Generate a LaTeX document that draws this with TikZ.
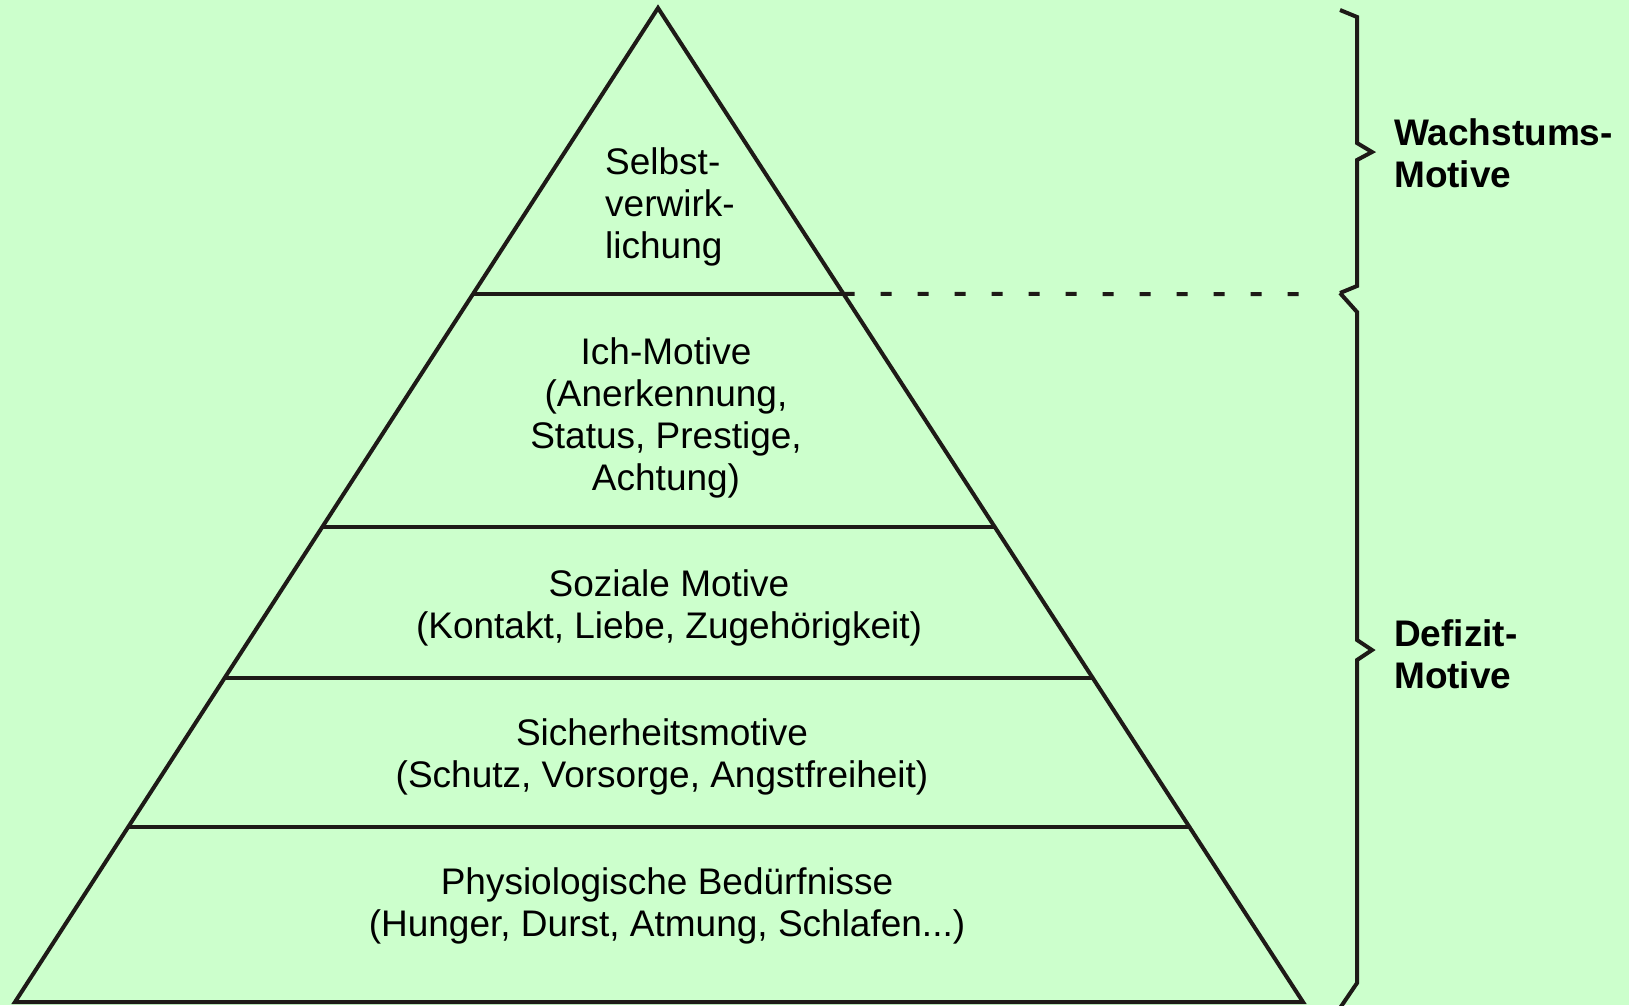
\documentclass[tikz,border=0pt]{standalone}
\usepackage{fontspec}
\setmainfont{Liberation Sans}
\usepackage{xcolor}
\usetikzlibrary{calc}
\definecolor{bggreen}{HTML}{CCFFCC}
\definecolor{inkline}{HTML}{1E1A17}
\tikzset{
  layer/.style={line width=4pt,inkline},
  layertext/.style={align=center,inner sep=0pt,font=\fontsize{37}{42}\selectfont},
  grouptext/.style={align=left,anchor=west,inner sep=0pt,font=\fontsize{37}{42}\selectfont\bfseries}
}
\begin{document}
\begin{tikzpicture}[x=1pt,y=-1pt]
  \fill[bggreen] (0,0) rectangle (1629,1005);
  \useasboundingbox (0,0) rectangle (1629,1005);
  \coordinate (apex) at (658,8);
  \coordinate (bl) at (15,1002);
  \coordinate (br) at (1303,1002);
  % pyramid outline
  \draw[layer,line join=miter] (bl) -- (apex) -- (br) -- cycle;
  % layer boundaries
  \foreach \t/\n in {0.2877/a,0.5221/b,0.6740/c,0.8239/d} {
    \draw[layer] ($(apex)!\t!(bl)$) coordinate (l\n) -- ($(apex)!\t!(br)$) coordinate (r\n);
  }
  \coordinate (dashend) at (1300,294);
  \draw[line width=4pt,inkline,dash pattern=on 11pt off 26pt] (ra) -- (dashend);
  % labels
  \node[layertext,align=left,anchor=west] (selbst) at (605,207) {Selbst-\\verwirk-\\lichung};
  \node[layertext] (ich) at (666,418) {Ich-Motive\\(Anerkennung,\\Status, Prestige,\\Achtung)};
  \node[layertext] (sozial) at (669,608) {Soziale Motive\\(Kontakt, Liebe, Zugehörigkeit)};
  \node[layertext] (sicher) at (662,757) {Sicherheitsmotive\\(Schutz, Vorsorge, Angstfreiheit)};
  \node[layertext] (physio) at (667,906) {Physiologische Bedürfnisse\\(Hunger, Durst, Atmung, Schlafen...)};
  % braces
  \draw[layer,line join=miter] (1340,10) -- (1357,17) -- (1357,143) -- (1372,152) -- (1357,160) -- (1357,286) -- (1340,293);
  \draw[layer,line join=miter] (1340,293) -- (1357,312) -- (1357,640) -- (1372,650) -- (1357,660) -- (1357,983) -- (1340,1008);
  \node[grouptext] (wachs) at (1394,153) {Wachstums-\\Motive};
  \node[grouptext] (defizit) at (1394,654) {Defizit-\\Motive};
\end{tikzpicture}
\end{document}
